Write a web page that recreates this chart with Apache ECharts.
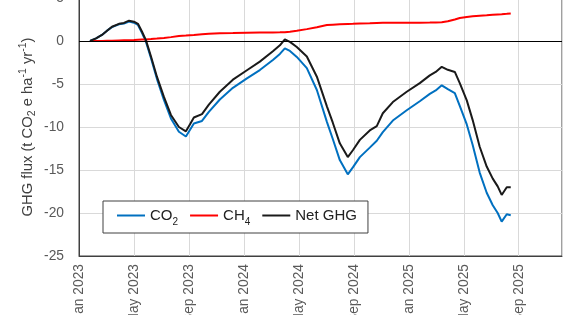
<!DOCTYPE html>
<html>
<head>
<meta charset="utf-8">
<script src="https://cdn.jsdelivr.net/npm/echarts@6/dist/echarts.min.js"></script>
<style>
  html, body { margin: 0; padding: 0; background: #fff; }
  #chart { width: 570px; height: 315px; }
</style>
</head>
<body>
<div id="chart"></div>
<script>
// x values are months since Jan 2023
const monthNames = ['Jan', 'Feb', 'Mar', 'Apr', 'May', 'Jun', 'Jul', 'Aug', 'Sep', 'Oct', 'Nov', 'Dec'];
const months = [0.80, 1.24, 1.67, 2.04, 2.40, 2.91, 3.27, 3.64, 4.00, 4.29, 4.58, 4.87, 5.24, 5.67, 6.18, 6.69,
    7.27, 7.78, 8.07, 8.36, 8.95, 9.45, 10.25, 11.20, 12.22, 13.16, 14.11, 14.62, 14.98, 15.35, 15.85, 16.58,
    17.31, 18.04, 18.47, 18.98, 19.56, 19.93, 20.44, 21.16, 21.67, 22.11, 22.84, 23.85, 24.80, 25.53, 25.96,
    26.40, 26.84, 27.35, 27.71, 28.22, 28.65, 29.16, 29.67, 30.11, 30.47, 30.76, 31.13, 31.42];
const co2 = [0, 0.3, 0.7, 1.2, 1.62, 1.95, 2.02, 2.26, 2.13, 1.86, 0.94, -0.08, -2.0, -4.4, -6.85, -9.0,
    -10.55, -11.1, -10.35, -9.6, -9.3, -8.25, -6.8, -5.45, -4.35, -3.38, -2.2, -1.5, -0.85, -1.15, -1.85, -3.15,
    -5.7, -9.4, -11.4, -13.85, -15.5, -14.7, -13.5, -12.4, -11.6, -10.6, -9.25, -8.05, -7.0, -6.15, -5.75,
    -5.15, -5.6, -6.05, -7.55, -9.7, -12.1, -15.3, -17.65, -19.1, -20.0, -21.0, -20.15, -20.25];
const ch4 = [0, 0, 0, 0.02, 0.03, 0.06, 0.08, 0.1, 0.12, 0.14, 0.16, 0.18, 0.22, 0.28, 0.36, 0.45,
    0.58, 0.63, 0.67, 0.7, 0.78, 0.84, 0.9, 0.93, 0.97, 0.99, 1.0, 1.01, 1.03, 1.08, 1.18, 1.38,
    1.6, 1.85, 1.9, 1.94, 1.98, 2.0, 2.03, 2.07, 2.1, 2.12, 2.13, 2.13, 2.13, 2.14, 2.15,
    2.17, 2.3, 2.5, 2.68, 2.8, 2.87, 2.94, 2.99, 3.05, 3.09, 3.12, 3.16, 3.2];
const netGhg = [0, 0.3, 0.7, 1.2, 1.66, 2.0, 2.1, 2.36, 2.25, 2.0, 1.1, 0.1, -1.8, -4.15, -6.5, -8.6,
    -10.0, -10.5, -9.7, -8.9, -8.5, -7.4, -5.9, -4.5, -3.4, -2.4, -1.2, -0.5, 0.2, -0.1, -0.7, -1.8,
    -4.15, -7.6, -9.5, -11.9, -13.5, -12.7, -11.5, -10.4, -9.9, -8.4, -7.1, -5.9, -4.9, -4.0, -3.6,
    -3.0, -3.35, -3.6, -4.9, -6.9, -9.2, -12.3, -14.6, -16.0, -16.9, -17.9, -17.0, -17.0];

const font = 'Liberation Sans, Arial, sans-serif';

function pairs(vals) {
    return months.map((m, i) => [m, vals[i]]);
}

const chart = echarts.init(document.getElementById('chart'));
chart.setOption({
    animation: false,
    textStyle: { fontFamily: font },
    grid: {
        left: 79,
        right: 8,
        top: -2,
        bottom: 59,
        outerBoundsMode: 'none',
        containLabel: false,
        show: true,
        borderColor: '#404040',
        borderWidth: 1,
        backgroundColor: 'transparent',
    },
    legend: {
        left: 103,
        top: 201,
        padding: [7, 11, 6, 14],
        icon: 'rect',
        itemWidth: 28,
        itemHeight: 2,
        itemGap: 12,
        borderColor: '#404040',
        borderWidth: 1,
        borderRadius: 0,
        backgroundColor: '#fff',
        data: ['CO2', 'CH4', 'Net GHG'],
        formatter: function (name) {
            if (name === 'CO2') return '{n|CO}{sub|2}';
            if (name === 'CH4') return '{n|CH}{sub|4}';
            return '{n|' + name + '}';
        },
        textStyle: {
            fontFamily: font,
            rich: {
                n: { fontSize: 15, color: '#222', lineHeight: 15, fontFamily: font },
                sub: { fontSize: 10, color: '#222', lineHeight: 15, verticalAlign: 'bottom', padding: [0, 0, -4, 0], fontFamily: font },
            },
        },
    },
    xAxis: {
        type: 'value',
        min: 0,
        max: 35.15,
        interval: 4,
        axisLine: { onZero: false, lineStyle: { color: '#404040' } },
        axisTick: { show: false },
        splitLine: { show: true, lineStyle: { color: '#d9d9d9' } },
        axisLabel: {
            rotate: 90,
            margin: 8,
            fontSize: 13.8,
            color: '#595959',
            fontFamily: font,
            showMaxLabel: false,
            formatter: function (v) {
                const m = Math.round(v);
                return monthNames[m % 12] + ' ' + (2023 + Math.floor(m / 12));
            },
        },
    },
    yAxis: {
        type: 'value',
        min: -25,
        max: 5,
        interval: 5,
        name: '{n|GHG flux (t CO}{sub|2}{n| e ha}{sup|-1}{n| yr}{sup|-1}{n|)}',
        nameLocation: 'middle',
        nameGap: 41,
        nameMoveOverlap: false,
        nameRotate: 90,
        nameTextStyle: {
            rich: {
                n: { fontSize: 14.8, color: '#404040', lineHeight: 20, fontFamily: font },
                sub: { fontSize: 10.5, color: '#404040', lineHeight: 20, verticalAlign: 'bottom', fontFamily: font },
                sup: { fontSize: 10.5, color: '#404040', lineHeight: 20, verticalAlign: 'top', fontFamily: font },
            },
        },
        axisLine: { show: true, lineStyle: { color: '#404040' } },
        axisTick: { show: false },
        splitLine: { show: true, lineStyle: { color: '#d9d9d9' } },
        axisLabel: { margin: 15, fontSize: 13.8, color: '#595959', fontFamily: font },
    },
    series: [
        {
            name: 'CO2',
            type: 'line',
            symbol: 'none',
            data: pairs(co2),
            lineStyle: { color: '#0070C0', width: 2 },
            itemStyle: { color: '#0070C0' },
            markLine: {
                silent: true,
                symbol: 'none',
                label: { show: false },
                lineStyle: { color: '#000', width: 1, type: 'solid' },
                data: [{ yAxis: 0 }],
            },
        },
        {
            name: 'CH4',
            type: 'line',
            symbol: 'none',
            data: pairs(ch4),
            lineStyle: { color: '#FF0000', width: 2 },
            itemStyle: { color: '#FF0000' },
        },
        {
            name: 'Net GHG',
            type: 'line',
            symbol: 'none',
            data: pairs(netGhg),
            lineStyle: { color: '#1a1a1a', width: 2 },
            itemStyle: { color: '#1a1a1a' },
        },
    ],
});
</script>
</body>
</html>
